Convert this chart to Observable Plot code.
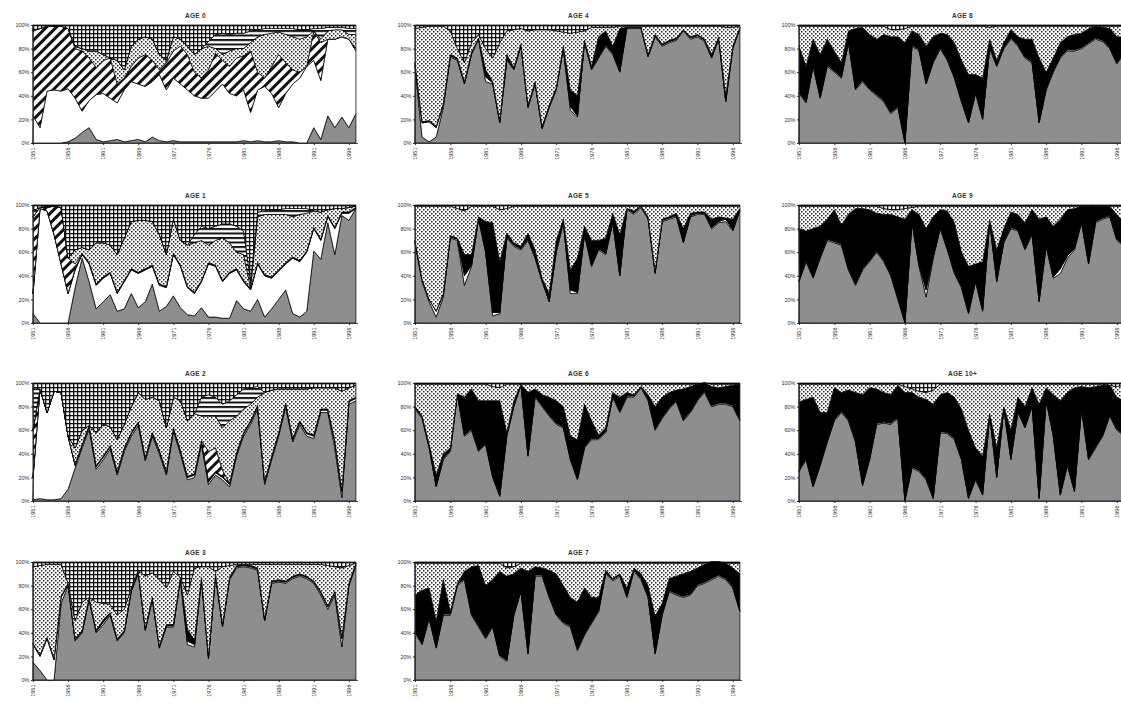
<!DOCTYPE html>
<html><head><meta charset="utf-8">
<script src="https://cdn.jsdelivr.net/npm/d3@7"></script>
<script src="https://cdn.jsdelivr.net/npm/@observablehq/plot@0.6"></script>
<style>
html,body{margin:0;padding:0;background:#fff;}
#page{position:relative;width:1121px;height:703px;overflow:hidden;font-family:"Liberation Sans",Arial,sans-serif;background:#fff;}
.panel{position:absolute;}
.panel svg{max-width:none !important;}
.title{position:absolute;text-align:center;font-size:6.5px;font-weight:bold;color:#333;letter-spacing:0.3px;font-family:"Liberation Sans",Arial,sans-serif;}
</style></head><body>
<svg width="0" height="0" style="position:absolute">
<defs>
<pattern id="pDot" width="4" height="4" patternUnits="userSpaceOnUse"><rect width="4" height="4" fill="#fff"/><rect x="0" y="0" width="1.5" height="1.5" fill="#222"/><rect x="2" y="2" width="1.5" height="1.5" fill="#222"/></pattern>
<pattern id="pCross" width="4" height="4" patternUnits="userSpaceOnUse"><rect width="4" height="4" fill="#fff"/><rect x="0" y="0" width="4" height="1.3" fill="#111"/><rect x="0" y="0" width="1.3" height="4" fill="#111"/></pattern>
<pattern id="pH" width="4.5" height="4.5" patternUnits="userSpaceOnUse"><rect width="4.5" height="4.5" fill="#fff"/><rect x="0" y="0" width="4.5" height="2" fill="#111"/></pattern>
<pattern id="pDiag" width="7" height="7" patternUnits="userSpaceOnUse" patternTransform="rotate(45)"><rect width="7" height="7" fill="#fff"/><rect x="0" y="0" width="3" height="7" fill="#111"/></pattern>
</defs>
</svg>
<div id="page"></div>
<script>
// ---------- data ----------
const YEARS = [1951,1952,1953,1954,1955,1956,1957,1958,1959,1960,1961,1962,1963,1964,1965,1966,1967,1968,1969,1970,1971,1972,1973,1974,1975,1976,1977,1978,1979,1980,1981,1982,1983,1984,1985,1986,1987,1988,1989,1990,1991,1992,1993,1994,1995,1996,1997];
const X_TICKS = [1951,1956,1961,1966,1971,1976,1981,1986,1991,1996];
const Y_TICKS = [0,20,40,60,80,100];
const TITLES = ["AGE 0","AGE 1","AGE 2","AGE 3","AGE 4","AGE 5","AGE 6","AGE 7","AGE 8","AGE 9","AGE 10+"];

// cumulative tops (%) unless named *_SHARE
const A0_GRAY = [0,0,0,0,0, 1,4,9,13,3, 1,2,3,1,2, 3,1,5,2,1, 2,1,1,1,1, 1,1,1,1,1, 2,1,2,1,1, 2,1,1,0,0, 13,3,23,13,22, 13,25];
const A0_WHITE = [23,13,44,45,44, 46,38,27,36,41, 42,38,34,45,52, 50,48,52,58,45, 55,50,45,40,38, 38,44,50,42,40, 45,26,45,48,42, 30,42,50,55,65, 70,53,88,88,90, 88,78];
const A0_DIAG = [95,97,99,99,99, 97,80,78,72,64, 70,72,50,55,65, 72,75,70,62,68, 78,82,75,60,55, 62,76,70,65,72, 74,78,60,55,65, 75,68,62,60,65, 95,85,88,88,90, 88,80];
const A0_DOT = [96,97,99,99,99, 97,82,80,78,78, 75,72,70,62,82, 88,90,88,75,70, 90,88,82,75,80, 82,80,75,78,80, 80,85,90,92,93, 94,92,90,88,90, 95,88,95,96,96, 92,92];
const A0_HSTRIPE = [0,0,0,0,0, 0,0,0,0,0, 0,0,0,0,0, 0,0,0,0,0, 0,0,0,0,0, 86,92,93,92,93, 93,95,96,97,97, 97,97,97,96,96, 97,97,98,98,98, 97,97];

const A1_GRAY = [8,0,0,0,0, 0,30,55,35,12, 18,24,10,12,25, 13,18,33,10,14, 23,13,7,6,13, 5,5,4,4,19, 12,10,20,5,12, 20,28,8,5,10, 61,54,85,58,91, 87,97];
const A1_WHITE = [25,97,95,75,50, 25,45,58,50,32, 38,42,25,35,45, 42,45,48,32,30, 58,48,30,25,35, 50,48,35,42,45, 35,28,50,40,38, 44,50,55,52,60, 80,70,90,80,93, 93,97];
const A1_BLACK_SHARE = [0,0,0,0,0, 0,1,1,1,1, 1,1,1,1,1, 1,1,1,1,1, 1,1,1,1,1, 1,1,1,1,1, 1,1,1,1,1, 1,1,1,1,1, 1,1,1,1,1, 1,1];
const A1_DIAG = [90,98,98,99,98, 55,50,0,0,0, 0,0,0,0,0, 0,0,0,0,0, 0,0,0,0,0, 0,0,0,0,0, 0,0,0,0,0, 0,0,0,0,0, 0,0,0,0,0, 0,0];
const A1_DOT = [90,98,98,99,98, 55,62,64,62,68, 68,66,58,72,86, 87,87,86,75,58, 88,70,66,68,70, 66,70,72,68,60, 58,30,90,92,92, 92,92,90,92,93, 95,94,96,97,97, 98,99];
const A1_HSTRIPE = [95,98,99,99,98, 0,0,0,0,0, 0,0,0,0,0, 0,0,0,0,0, 0,0,0,75,82, 80,82,84,84,82, 78,35,94,95,96, 96,97,97,97,97, 0,0,0,0,0, 0,0];

const A2_GRAY = [1,2,1,1,2, 10,28,45,61,27, 35,44,22,42,55, 64,34,55,40,22, 59,40,18,20,48, 14,22,18,12,38, 55,65,78,14,35, 55,80,50,65,55, 53,75,75,45,3, 82,85];
const A2_WHITE = [20,95,75,93,92, 55,30,47,63,29, 37,46,24,44,57, 66,36,57,42,24, 61,42,20,22,50, 16,24,20,14,40, 57,67,80,16,37, 57,82,52,67,57, 55,77,77,50,8, 84,87];
const A2_BLACK_SHARE = [0,0,0,0,0, 0,1,1,1,1, 1,1,1,1,1, 1,1,1,1,1, 1,1,1,1,1, 1,1,1,1,1, 1,1,1,1,1, 1,1,1,1,1, 1,1,1,1,1, 1,1];
const A2_DIAG = [60,0,0,0,0, 0,0,0,0,0, 0,0,0,0,0, 0,0,0,0,0, 0,0,0,0,0, 42,45,26,0,0, 0,0,0,0,0, 0,0,0,0,0, 0,0,0,0,0, 0,0];
const A2_DOT = [60,95,75,93,92, 55,45,60,63,58, 65,63,52,65,80, 92,86,88,85,62, 88,85,68,74,72, 72,72,62,68,72, 78,82,88,92,94, 95,95,95,95,95, 96,96,96,96,93, 96,98];
const A2_HSTRIPE = [95,0,0,0,0, 0,0,0,0,0, 0,0,0,0,0, 0,0,0,0,0, 0,0,0,0,88, 90,88,82,85,90, 95,96,97,0,0, 0,0,0,0,0, 0,0,0,0,0, 0,0];

const A3_GRAY = [15,8,0,0,65, 80,33,40,68,40, 47,55,33,40,75, 90,42,68,27,45, 45,85,30,28,85, 18,88,45,85,95, 96,95,93,50,82, 83,82,86,88,86, 82,72,60,72,28, 80,97];
const A3_WHITE = [30,20,35,17,70, 81,34,41,69,41, 49,56,34,41,76, 91,43,69,28,46, 46,86,33,30,86, 19,89,46,86,96, 97,96,94,51,83, 84,83,87,89,87, 83,74,62,74,35, 81,98];
const A3_BLACK_SHARE = [1,1,1,1,1, 1,1,1,1,1, 2,1,1,1,1, 1,1,1,1,1, 1,1,10,4,1, 1,1,1,1,1, 1,1,1,1,1, 1,1,1,1,1, 1,1,1,1,1, 1,1];
const A3_DOT = [96,97,98,98,98, 82,50,66,70,66, 65,64,55,60,78, 93,88,91,85,78, 92,80,72,95,96, 96,92,96,97,98, 98,98,98,98,98, 98,98,98,98,98, 98,98,97,96,95, 97,99];

const A4_GRAY = [65,5,1,5,30, 73,70,50,75,88, 52,50,17,70,62, 82,30,50,12,30, 45,80,28,22,85, 62,72,82,75,60, 97,97,97,73,90, 82,85,87,95,88, 90,86,72,88,35, 80,97];
const A4_WHITE_SHARE = [2,12,17,8,2, 1,1,1,1,1, 4,1,1,1,1, 1,1,1,1,1, 1,1,3,1,1, 1,1,1,1,1, 1,1,1,1,1, 1,1,1,1,1, 1,1,1,1,1, 1,1];
const A4_BLACK = [68,18,19,14,33, 75,72,52,77,89, 62,52,19,75,64, 84,32,52,14,32, 47,82,45,40,87, 65,90,95,82,97, 98,98,98,75,92, 84,87,89,96,90, 92,88,75,90,40, 82,98];
const A4_DOT = [97,98,99,99,99, 95,80,68,85,92, 80,72,85,95,96, 97,95,96,96,96, 95,94,93,94,95, 98,98,98,98,99, 99,99,99,99,99, 99,99,99,99,99, 99,99,99,99,98, 98,99];

const A5_GRAY = [68,35,18,5,22, 72,70,32,48,88, 60,6,8,72,65, 62,70,55,35,18, 60,85,25,25,75, 48,62,58,85,40, 96,92,98,88,42, 86,88,90,68,90, 92,92,80,85,86, 78,95];
const A5_WHITE_SHARE = [1,2,2,5,2, 1,1,8,1,1, 1,3,1,1,1, 1,1,1,1,1, 1,1,3,1,1, 1,1,1,1,1, 1,1,1,1,1, 1,1,1,1,1, 1,1,1,1,2, 1,1];
const A5_BLACK = [70,37,20,10,25, 74,72,58,58,90, 86,85,52,76,68, 65,76,62,38,25, 70,88,45,55,82, 70,70,72,93,75, 97,95,99,90,44, 88,90,93,80,93, 94,94,88,90,89, 88,97];
const A5_DOT = [99,99,99,99,99, 99,97,95,99,99, 99,99,96,97,99, 99,99,99,99,99, 99,99,99,99,99, 99,99,99,99,99, 99,99,99,99,99, 99,99,99,99,99, 99,99,99,99,99, 99,99];

const A6_GRAY = [78,70,45,12,35, 42,90,55,60,42, 48,20,4,55,80, 98,38,88,80,72, 65,62,35,18,45, 52,52,58,88,75, 88,88,96,85,60, 70,78,84,68,75, 85,92,80,82,82, 80,68];
const A6_WHITE_SHARE = [1,1,1,1,1, 1,1,1,1,1, 1,1,1,1,1, 1,1,1,1,1, 1,1,1,1,1, 1,1,1,1,1, 1,1,1,1,1, 1,1,1,1,1, 1,1,1,1,1, 1,1];
const A6_BLACK = [80,72,48,22,40, 45,91,88,95,85, 85,85,85,58,85, 99,92,95,90,88, 85,80,55,52,82, 68,56,62,92,88, 92,90,97,90,80, 88,92,94,95,97, 99,100,97,96,97, 98,99];
const A6_DOT = [99,99,99,99,99, 99,99,99,99,99, 99,97,96,99,99, 99,99,99,99,99, 99,99,99,99,99, 99,99,99,99,99, 99,99,99,99,99, 99,99,99,99,99, 99,99,99,99,99, 99,99];

const A7_GRAY = [40,30,52,27,55, 55,80,85,55,45, 35,45,20,16,55, 75,22,88,88,70, 55,48,45,25,38, 48,58,90,84,88, 70,92,85,70,22, 55,75,72,70,72, 80,82,85,88,85, 78,58];
const A7_WHITE_SHARE = [1,1,1,1,1, 1,1,1,1,1, 1,1,1,1,1, 1,1,1,1,1, 1,1,1,1,1, 1,1,1,1,1, 1,1,1,1,1, 1,1,1,1,1, 1,1,1,1,1, 1,1];
const A7_BLACK = [72,76,78,50,85, 58,82,92,96,97, 80,85,92,88,90, 95,92,96,95,93, 90,80,70,66,78, 70,70,93,86,90, 78,95,90,80,54, 65,86,88,90,92, 95,98,100,100,99, 95,90];
const A7_DOT = [99,99,99,99,99, 99,99,99,99,99, 99,99,99,95,96, 99,99,99,99,99, 99,99,99,99,99, 99,99,99,99,99, 99,99,99,99,99, 99,99,99,99,99, 99,99,99,99,99, 99,99];

const A8_GRAY = [42,34,65,38,65, 60,55,85,45,52, 45,40,35,25,30, 0,82,78,50,68, 80,70,55,35,17, 42,20,80,65,80, 88,82,72,68,17, 45,60,72,78,78, 80,84,88,86,80, 67,75];
const A8_WHITE_SHARE = [1,1,1,1,1, 1,1,1,1,1, 1,1,1,1,1, 1,1,1,1,1, 1,1,1,1,1, 1,1,1,1,1, 1,1,1,1,1, 1,1,1,1,1, 1,1,1,1,1, 1,1];
const A8_BLACK = [82,65,88,75,88, 78,68,95,97,98, 92,88,92,90,90, 85,95,92,82,90, 93,92,85,70,58, 58,55,88,70,85, 96,90,88,88,72, 60,72,85,90,92, 93,97,99,98,97, 90,90];
const A8_DOT = [99,99,99,99,99, 99,99,99,99,99, 99,99,99,96,96, 97,99,99,99,99, 99,99,99,99,99, 99,99,98,99,99, 99,99,99,99,99, 99,99,99,99,99, 99,99,99,99,99, 99,99];

const A9_GRAY = [35,52,38,55,70, 68,66,45,32,45, 52,60,52,40,20, 0,85,48,22,55, 80,62,42,30,8, 35,10,85,35,68, 80,78,62,75,18, 65,38,42,55,62, 85,50,85,88,90, 70,65];
const A9_WHITE_SHARE = [1,1,1,1,1, 1,1,1,1,1, 1,1,1,1,1, 1,1,1,6,1, 1,1,1,1,1, 1,1,1,1,1, 1,1,1,1,1, 1,1,4,2,1, 1,1,1,1,1, 1,1];
const A9_BLACK = [80,78,80,82,88, 96,83,92,97,97, 96,93,92,92,90, 88,96,92,80,90, 96,95,85,60,48, 50,52,87,62,80, 94,92,85,96,88, 90,82,88,96,97, 99,99,99,99,99, 92,85];
const A9_DOT = [99,99,99,99,99, 99,99,99,99,99, 99,99,97,96,96, 97,98,99,99,99, 99,99,99,99,99, 99,99,99,99,99, 99,99,99,99,99, 99,99,99,99,99, 99,99,99,99,99, 99,99];

const A10_GRAY = [25,35,12,30,50, 68,75,68,50,13, 35,65,66,65,70, 0,28,25,18,2, 58,57,52,35,2, 18,5,72,20,78, 35,75,62,80,2, 85,55,5,30,8, 78,35,45,55,72, 60,55];
const A10_WHITE_SHARE = [1,1,1,1,1, 1,1,1,1,1, 1,1,1,1,1, 1,1,1,1,1, 1,1,1,1,1, 1,1,1,1,1, 1,1,1,1,1, 1,1,1,1,1, 1,1,1,1,1, 1,1];
const A10_BLACK = [84,86,88,75,75, 96,92,94,92,90, 96,95,92,90,98, 92,92,88,86,82, 90,92,88,78,60, 45,38,74,45,80, 60,88,80,96,82, 96,90,85,92,96, 97,96,97,98,98, 88,85];
const A10_DOT = [99,99,99,99,99, 99,99,99,99,99, 99,99,99,99,99, 97,95,93,92,94, 99,99,99,99,99, 99,99,99,99,99, 99,99,99,99,99, 99,99,99,99,99, 99,99,99,99,97, 97,98];

// ---------- styles / layout ----------
const FILLS = {gray:"#8e8e8e", white:"#ffffff", black:"#000000", diag:"url(#pDiag)", dot:"url(#pDot)", hstripe:"url(#pH)", cross:"url(#pCross)"};
const COL_LEFT = [33, 415, 799];
const COL_W = [325, 327, 327];
const ROW_TOP = [25, 205, 383, 562];
const PLOT_H = 118;
const ML = 32, MR = 4, MT = 4, MB = 24;

const PANELS = [
  {t:0, c:0, r:0, layers:[["gray","top",A0_GRAY],["white","top",A0_WHITE],["diag","top",A0_DIAG],["dot","top",A0_DOT],["hstripe","top",A0_HSTRIPE]]},
  {t:1, c:0, r:1, layers:[["gray","top",A1_GRAY],["white","top",A1_WHITE],["black","share",A1_BLACK_SHARE],["diag","top",A1_DIAG],["dot","top",A1_DOT],["hstripe","top",A1_HSTRIPE]]},
  {t:2, c:0, r:2, layers:[["gray","top",A2_GRAY],["white","top",A2_WHITE],["black","share",A2_BLACK_SHARE],["diag","top",A2_DIAG],["dot","top",A2_DOT],["hstripe","top",A2_HSTRIPE]]},
  {t:3, c:0, r:3, layers:[["gray","top",A3_GRAY],["white","top",A3_WHITE],["black","share",A3_BLACK_SHARE],["dot","top",A3_DOT]]},
  {t:4, c:1, r:0, layers:[["gray","top",A4_GRAY],["white","share",A4_WHITE_SHARE],["black","top",A4_BLACK],["dot","top",A4_DOT]]},
  {t:5, c:1, r:1, layers:[["gray","top",A5_GRAY],["white","share",A5_WHITE_SHARE],["black","top",A5_BLACK],["dot","top",A5_DOT]]},
  {t:6, c:1, r:2, layers:[["gray","top",A6_GRAY],["white","share",A6_WHITE_SHARE],["black","top",A6_BLACK],["dot","top",A6_DOT]]},
  {t:7, c:1, r:3, layers:[["gray","top",A7_GRAY],["white","share",A7_WHITE_SHARE],["black","top",A7_BLACK],["dot","top",A7_DOT]]},
  {t:8, c:2, r:0, layers:[["gray","top",A8_GRAY],["white","share",A8_WHITE_SHARE],["black","top",A8_BLACK],["dot","top",A8_DOT]]},
  {t:9, c:2, r:1, layers:[["gray","top",A9_GRAY],["white","share",A9_WHITE_SHARE],["black","top",A9_BLACK],["dot","top",A9_DOT]]},
  {t:10, c:2, r:2, layers:[["gray","top",A10_GRAY],["white","share",A10_WHITE_SHARE],["black","top",A10_BLACK],["dot","top",A10_DOT]]}
];

const page = document.getElementById("page");

for (const p of PANELS) {
  let prev = YEARS.map(() => 0);
  const marks = [];
  const all = [...p.layers, ["cross","full",null]];
  for (const [name, mode, vals] of all) {
    const top = YEARS.map((y, i) => {
      if (mode === "full") return 100;
      if (mode === "share") return Math.min(100, prev[i] + vals[i]);
      return Math.min(100, Math.max(prev[i], vals[i]));
    });
    const rows = YEARS.map((year, i) => ({year, y1: prev[i], y2: top[i]}));
    marks.push(Plot.areaY(rows, {x: "year", y1: "y1", y2: "y2", fill: FILLS[name], stroke: "#000", strokeWidth: 0.75, strokeLinejoin: "round"}));
    prev = top;
  }
  marks.push(Plot.ruleY([0], {stroke: "#222", strokeWidth: 0.8}));
  marks.push(Plot.ruleX([1951], {stroke: "#222", strokeWidth: 0.8}));

  const w = COL_W[p.c];
  const chart = Plot.plot({
    width: ML + w + MR,
    height: MT + PLOT_H + MB,
    marginLeft: ML, marginRight: MR, marginTop: MT, marginBottom: MB,
    style: {fontFamily: '"Liberation Sans", Arial, sans-serif', fontSize: "5.5px", color: "#333", background: "transparent", overflow: "visible", maxWidth: "none"},
    x: {domain: [1951, 1997.3], ticks: X_TICKS, tickFormat: d => String(d), tickRotate: -90, tickSize: 2, tickPadding: 2, label: null},
    y: {domain: [0, 100], ticks: Y_TICKS, tickFormat: d => d + "%", tickSize: 2, tickPadding: 2, label: null},
    marks
  });
  chart.style.maxWidth = "none";
  const div = document.createElement("div");
  div.className = "panel";
  div.style.left = (COL_LEFT[p.c] - ML) + "px";
  div.style.top = (ROW_TOP[p.r] - MT) + "px";
  div.style.width = (ML + w + MR) + "px";
  div.appendChild(chart);
  page.appendChild(div);

  const t = document.createElement("div");
  t.className = "title";
  t.textContent = TITLES[p.t];
  t.style.left = COL_LEFT[p.c] + "px";
  t.style.width = w + "px";
  t.style.top = (ROW_TOP[p.r] - 13) + "px";
  page.appendChild(t);
}
</script>
</body></html>
